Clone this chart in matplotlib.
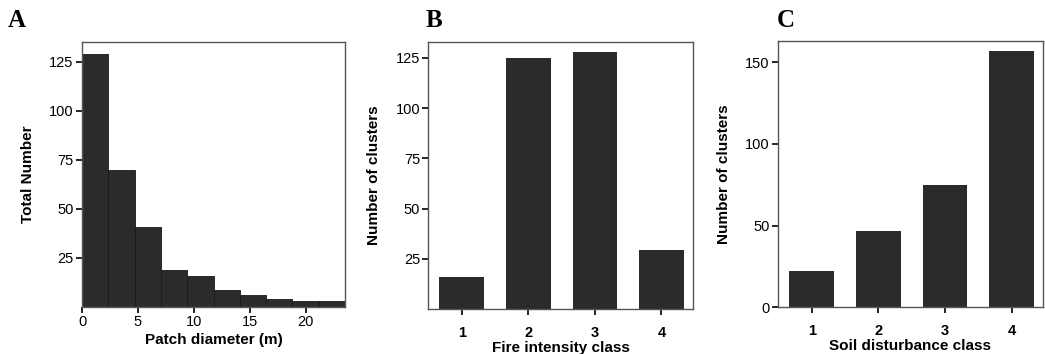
import matplotlib.pyplot as plt
import numpy as np

# panel A: histogram of patch diameter
bin_edges = [0, 2.35, 4.7, 7.05, 9.4, 11.75, 14.1, 16.45, 18.8, 21.15, 23.5]
patch_counts = [129, 70, 41, 19, 15.6, 8.8, 6, 4.2, 3.2, 3.2]

# panel B: fire intensity
fire_classes = [1, 2, 3, 4]
fire_counts = [16, 125, 128, 29.5]

# panel C: soil disturbance
soil_classes = [1, 2, 3, 4]
soil_counts = [22, 47, 75, 157]

plt.rcParams["font.family"] = ["Liberation Sans", "DejaVu Sans"]
BAR = "#2b2b2b"
SPINE = "#555555"


def style_axes(ax):
    for s in ax.spines.values():
        s.set_color(SPINE)
        s.set_linewidth(1.0)
    ax.tick_params(direction="out", length=4, width=1.2, color="black",
                   labelsize=10.5, pad=2)


fig = plt.figure(figsize=(10.45, 3.54), dpi=100)
axA = fig.add_axes([0.0785, 0.1328, 0.2517, 0.7486])
axB = fig.add_axes([0.4099, 0.1263, 0.2530, 0.7559])
axC = fig.add_axes([0.7442, 0.1320, 0.2539, 0.7520])

# A
widths = np.diff(bin_edges)
axA.bar(bin_edges[:-1], patch_counts, width=widths, align="edge",
        color=BAR, edgecolor="#1a1a1a", linewidth=0.6)
axA.set_xlim(0, 23.5)
axA.set_ylim(0, 135)
axA.set_xticks([0, 5, 10, 15, 20])
axA.set_yticks([25, 50, 75, 100, 125])
axA.set_xlabel("Patch diameter (m)", fontsize=11, fontweight="bold", labelpad=3)
axA.set_ylabel("Total Number", fontsize=11, fontweight="bold", labelpad=10)
style_axes(axA)

# B
axB.bar(fire_classes, fire_counts, width=0.67, color=BAR)
axB.set_xlim(0.5, 4.47)
axB.set_ylim(0, 133)
axB.set_xticks(fire_classes)
axB.set_yticks([25, 50, 75, 100, 125])
axB.set_xlabel("Fire intensity class", fontsize=11, fontweight="bold", labelpad=1)
axB.set_ylabel("Number of clusters", fontsize=11, fontweight="bold", labelpad=10)
style_axes(axB)
axB.tick_params(axis="x", pad=8)
for lab in axB.get_xticklabels():
    lab.set_fontweight("bold")

# C
axC.bar(soil_classes, soil_counts, width=0.67, color=BAR)
axC.set_xlim(0.49, 4.47)
axC.set_ylim(0, 163)
axC.set_xticks(soil_classes)
axC.set_yticks([0, 50, 100, 150])
axC.set_xlabel("Soil disturbance class", fontsize=11, fontweight="bold", labelpad=1)
axC.set_ylabel("Number of clusters", fontsize=11, fontweight="bold", labelpad=10)
style_axes(axC)
axC.tick_params(axis="x", pad=8)
for lab in axC.get_xticklabels():
    lab.set_fontweight("bold")

# panel letters
for x, letter in [(0.007, "A"), (0.407, "B"), (0.743, "C")]:
    fig.text(x, 0.975, letter, fontsize=18, fontweight="bold",
             family=["Liberation Serif", "DejaVu Serif"], va="top", ha="left")

fig.savefig("out.png", dpi=100)
